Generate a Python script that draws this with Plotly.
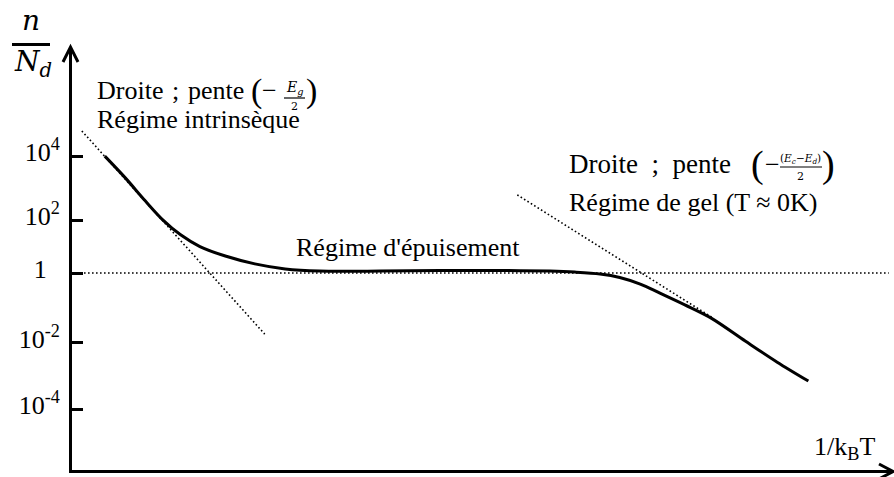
import plotly.graph_objects as go

# Carrier density n/N_d versus 1/k_BT (schematic, log scale on the vertical axis)
x_curve = [0.40, 0.65, 0.89, 1.11, 1.32, 1.56, 1.87, 2.23, 2.60, 3.02, 3.76,
           4.49, 5.22, 5.83, 6.13, 6.44, 6.68, 6.93, 7.17, 7.48, 7.80, 8.21,
           8.60, 8.98]
y_curve = [3.71, 3.02, 2.30, 1.68, 1.22, 0.84, 0.54, 0.29, 0.13, 0.06, 0.06,
           0.08, 0.08, 0.06, 0.03, -0.03, -0.14, -0.35, -0.64, -1.02, -1.44, -2.16,
           -2.83, -3.43]

# Asymptotes: intrinsic regime, freeze-out regime, saturation level n = N_d
x_intrinsic = [0.12, 2.35]
y_intrinsic = [4.51, -1.94]
x_gel = [5.43, 7.80]
y_gel = [2.48, -1.40]
x_sat = [0.0, 9.96]
y_sat = [0.0, 0.0]

# Vertical axis ticks (schematic decades)
tick_pos = [3.71, 1.68, 0.0, -2.22, -4.32]
tick_text = ["10<sup>4</sup>", "10<sup>2</sup>", "1\u2002", "10<sup>-2</sup>", "10<sup>-4</sup>"]

W, H = 894, 477
L, R, T, B = 72, 892, 47, 470


def xp(px):
    return (px - L) / (R - L)


def yp(py):
    return (B - py) / (B - T)


SERIF = "Liberation Serif"
MATH = "DejaVu Serif"
dot = dict(color="black", width=1.6, dash="1.6px,2.4px")

fig = go.Figure()
fig.add_trace(go.Scatter(x=x_sat, y=y_sat, mode="lines", line=dot, hoverinfo="skip"))
fig.add_trace(go.Scatter(x=x_intrinsic, y=y_intrinsic, mode="lines", line=dot, hoverinfo="skip"))
fig.add_trace(go.Scatter(x=x_gel, y=y_gel, mode="lines", line=dot, hoverinfo="skip"))
fig.add_trace(go.Scatter(x=x_curve, y=y_curve, mode="lines",
                         line=dict(color="black", width=3, shape="spline", smoothing=0.9),
                         hoverinfo="skip"))

shapes = [
    # arrow heads on both axes
    dict(type="path", xref="paper", yref="paper",
         path=f"M{xp(63)},{yp(62)} L{xp(70.5)},{yp(47)} L{xp(78)},{yp(62)}",
         line=dict(color="black", width=3)),
    dict(type="path", xref="paper", yref="paper",
         path=f"M{xp(879)},{yp(464)} L{xp(893)},{yp(471.5)} L{xp(879)},{yp(479)}",
         line=dict(color="black", width=3)),
    # fraction bars
    dict(type="line", xref="paper", yref="paper", x0=xp(12), x1=xp(50), y0=yp(44.5), y1=yp(44.5),
         line=dict(color="black", width=3)),
    dict(type="line", xref="paper", yref="paper", x0=xp(284), x1=xp(305), y0=yp(98), y1=yp(98),
         line=dict(color="black", width=1.2)),
    dict(type="line", xref="paper", yref="paper", x0=xp(780), x1=xp(822), y0=yp(167), y1=yp(167),
         line=dict(color="black", width=1.2)),
]


def note(text, px, py, size, family=SERIF, xanchor="left"):
    return dict(text=text, x=xp(px), y=yp(py), xref="paper", yref="paper",
                xanchor=xanchor, yanchor="middle", showarrow=False,
                font=dict(family=family, size=size, color="black"))


annotations = [
    note("<i>n</i>", 30.5, 20, 28, MATH, "center"),
    note("<i>N</i><sub><i>d</i></sub>", 12, 64, 28, MATH),
    note("Droite\u2004;\u2004pente", 95, 90.5, 26),
    note("(", 256.5, 90.5, 34, SERIF, "center"),
    note("\u2212", 269.5, 90, 26, SERIF, "center"),
    note("<i>E</i><sub><i>g</i></sub>", 295, 88, 14, MATH, "center"),
    note("2", 294.5, 106.5, 11, MATH, "center"),
    note(")", 311, 90.5, 34, SERIF, "center"),
    note("Régime intrinsèque", 95, 119, 26),
    note("Droite\u2002;\u2002pente", 567, 164, 27),
    note("(", 757.5, 164.5, 38, SERIF, "center"),
    note("\u2212", 772, 164, 26, SERIF, "center"),
    note("(<i>E</i><sub><i>c</i></sub>\u2212<i>E</i><sub><i>d</i></sub>)", 800.5, 158.5, 10.5, MATH, "center"),
    note("2", 800, 176, 11, MATH, "center"),
    note(")", 828, 164.5, 38, SERIF, "center"),
    note("Régime de gel (T \u2248 0K)", 567, 202, 26),
    note("Régime d'épuisement", 294, 247.5, 26),
    note("1/k<sub>B</sub>T", 812, 447.5, 26),
]

fig.update_layout(
    width=W, height=H,
    margin=dict(l=L, r=W - R, t=T, b=H - B, pad=0),
    paper_bgcolor="white", plot_bgcolor="white",
    showlegend=False,
    shapes=shapes,
    annotations=annotations,
    xaxis=dict(range=[0, 10], showgrid=False, zeroline=False, showticklabels=False,
               ticks="", showline=True, linewidth=3, linecolor="black", fixedrange=True),
    yaxis=dict(range=[-6.254, 7.175], showgrid=False, zeroline=False,
               tickmode="array", tickvals=tick_pos, ticktext=tick_text,
               ticks="inside", ticklen=11, tickwidth=2.5, tickcolor="black",
               ticklabelstandoff=4, ticklabelshift=-4,
               tickfont=dict(family=SERIF, size=26, color="black"),
               showline=True, linewidth=3, linecolor="black", fixedrange=True),
)

fig.write_html("out.html")
